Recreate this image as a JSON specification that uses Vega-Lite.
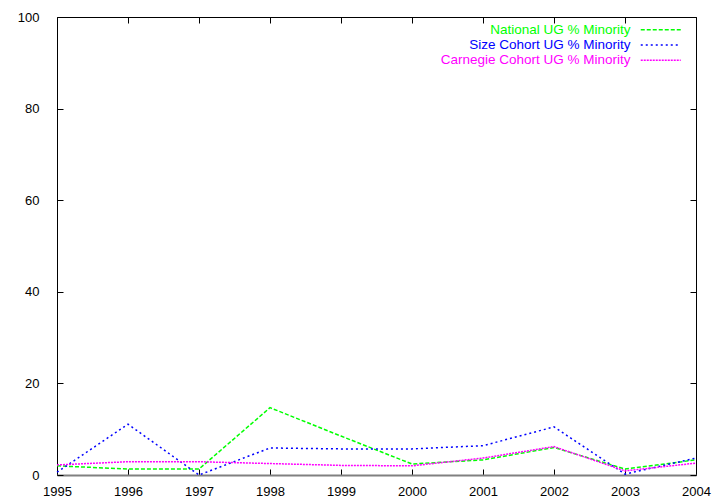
{
  "$schema": "https://vega.github.io/schema/vega-lite/v6.json",
  "autosize": "none",
  "width": 639,
  "height": 458,
  "padding": {"left": 57, "top": 17, "right": 24, "bottom": 29},
  "background": "white",
  "config": {
    "view": {"stroke": "black", "strokeWidth": 1},
    "font": "Liberation Sans",
    "axis": {"grid": false, "labelFont": "Liberation Sans", "labelFontSize": 13, "labelColor": "black", "tickColor": "black", "domain": false, "ticks": true, "tickSize": -6, "title": null}
  },
  "data": {"values": [
    {"year": 1995, "series": "National UG % Minority", "value": 2.0},
    {"year": 1996, "series": "National UG % Minority", "value": 1.3},
    {"year": 1997, "series": "National UG % Minority", "value": 1.3},
    {"year": 1998, "series": "National UG % Minority", "value": 14.7},
    {"year": 1999, "series": "National UG % Minority", "value": 8.5},
    {"year": 2000, "series": "National UG % Minority", "value": 2.4},
    {"year": 2001, "series": "National UG % Minority", "value": 3.3},
    {"year": 2002, "series": "National UG % Minority", "value": 6.0},
    {"year": 2003, "series": "National UG % Minority", "value": 1.3},
    {"year": 2004, "series": "National UG % Minority", "value": 3.3},
    {"year": 1995, "series": "Size Cohort UG % Minority", "value": 0.6},
    {"year": 1996, "series": "Size Cohort UG % Minority", "value": 11.1},
    {"year": 1997, "series": "Size Cohort UG % Minority", "value": 0.0},
    {"year": 1998, "series": "Size Cohort UG % Minority", "value": 5.9},
    {"year": 1999, "series": "Size Cohort UG % Minority", "value": 5.7},
    {"year": 2000, "series": "Size Cohort UG % Minority", "value": 5.7},
    {"year": 2001, "series": "Size Cohort UG % Minority", "value": 6.4},
    {"year": 2002, "series": "Size Cohort UG % Minority", "value": 10.5},
    {"year": 2003, "series": "Size Cohort UG % Minority", "value": 0.2},
    {"year": 2004, "series": "Size Cohort UG % Minority", "value": 3.7},
    {"year": 1995, "series": "Carnegie Cohort UG % Minority", "value": 2.2},
    {"year": 1996, "series": "Carnegie Cohort UG % Minority", "value": 2.9},
    {"year": 1997, "series": "Carnegie Cohort UG % Minority", "value": 2.9},
    {"year": 1998, "series": "Carnegie Cohort UG % Minority", "value": 2.5},
    {"year": 1999, "series": "Carnegie Cohort UG % Minority", "value": 2.1},
    {"year": 2000, "series": "Carnegie Cohort UG % Minority", "value": 2.0},
    {"year": 2001, "series": "Carnegie Cohort UG % Minority", "value": 3.7},
    {"year": 2002, "series": "Carnegie Cohort UG % Minority", "value": 6.2},
    {"year": 2003, "series": "Carnegie Cohort UG % Minority", "value": 0.9},
    {"year": 2004, "series": "Carnegie Cohort UG % Minority", "value": 2.6}
  ]},
  "resolve": {"axis": {"x": "independent", "y": "independent"}},
  "layer": [
    {
      "mark": {"type": "line", "strokeWidth": 1.5, "clip": false},
      "encoding": {
        "x": {"field": "year", "type": "quantitative", "scale": {"domain": [1995, 2004], "nice": false, "zero": false},
              "axis": {"orient": "bottom", "values": [1995,1996,1997,1998,1999,2000,2001,2002,2003,2004], "format": "d", "labelPadding": 16, "labelFlush": false, "domain": true, "domainColor": "#808080", "domainWidth": 2}},
        "y": {"field": "value", "type": "quantitative", "scale": {"domain": [0, 100], "nice": false},
              "axis": {"orient": "left", "values": [0,20,40,60,80,100], "labelPadding": 24, "labelFlush": false}},
        "color": {"field": "series", "type": "nominal",
                  "scale": {"domain": ["National UG % Minority", "Size Cohort UG % Minority", "Carnegie Cohort UG % Minority"], "range": ["#00ff00", "#0000ff", "#ff00ff"]},
                  "legend": {"orient": "none", "legendX": 597, "legendY": 6, "title": null, "symbolType": "M-10,0H10", "symbolSize": 16, "symbolStrokeWidth": 1.5, "labelAlign": "right", "labelOffset": -37, "labelFont": "Liberation Sans", "labelFontSize": 13.5, "labelLimit": 400, "rowPadding": 0.3,
                             "encode": {"labels": {"update": {"fill": {"scale": "color", "field": "value"}}}}}},
        "strokeDash": {"field": "series", "type": "nominal",
                  "scale": {"domain": ["National UG % Minority", "Size Cohort UG % Minority", "Carnegie Cohort UG % Minority"], "range": [[4, 2], [2, 3], [2, 1]]},
                  "legend": {"orient": "none", "legendX": 597, "legendY": 6, "title": null, "symbolType": "M-10,0H10", "symbolSize": 16, "symbolStrokeWidth": 1.5, "labelAlign": "right", "labelOffset": -37, "labelFont": "Liberation Sans", "labelFontSize": 13.5, "labelLimit": 400, "rowPadding": 0.3,
                             "encode": {"labels": {"update": {"fill": {"scale": "color", "field": "value"}}}}}}
      }
    },
    {
      "mark": {"type": "line", "opacity": 0},
      "encoding": {
        "x": {"field": "year", "type": "quantitative", "axis": {"orient": "top", "values": [1995,1996,1997,1998,1999,2000,2001,2002,2003,2004], "labels": false}},
        "y": {"field": "value", "type": "quantitative", "axis": {"orient": "right", "values": [0,20,40,60,80,100], "labels": false}}
      }
    }
  ]
}
